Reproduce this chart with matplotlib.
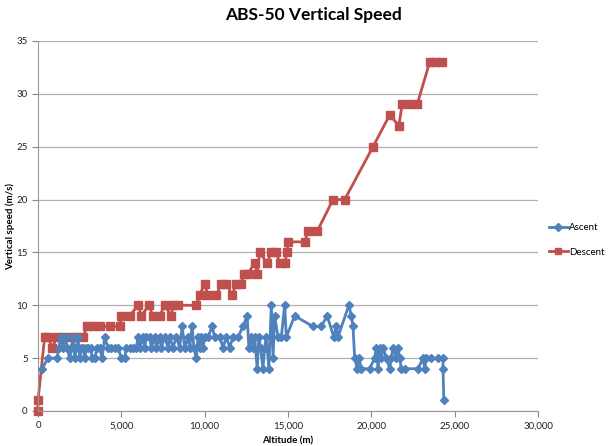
import matplotlib
matplotlib.use("Agg")
import matplotlib.pyplot as plt

plt.rcParams['font.family'] = ['Lato', 'DejaVu Sans']

asc_alt = [250, 600, 1150, 1250, 1350, 1500, 1650, 1750, 1900, 2000, 2100, 2200, 2300, 2400, 2500,
           2600, 2700, 2800, 2900, 3000, 3150, 3250, 3400, 3550, 3700, 3850, 4000, 4200, 4400, 4600,
           4800, 5000, 5200, 5300, 5500, 5700, 5900, 6000, 6100, 6300, 6400, 6500, 6700, 6800, 7000,
           7100, 7300, 7400, 7600, 7800, 7900, 8100, 8300, 8500, 8650, 8800, 9000, 9100, 9250, 9350,
           9500, 9600, 9700, 9800, 9900, 10000, 10200, 10450, 10600, 10900, 11100, 11300, 11500, 11700,
           12000, 12300, 12550, 12650, 12800, 12900, 13000, 13150, 13250, 13350, 13500, 13600, 13700,
           13850, 14000, 14100, 14200, 14400, 14600, 14800, 14900, 15400, 16500, 17000, 17350, 17750,
           17900, 18000, 18650, 18800, 18900, 19000, 19150, 19250, 19400, 19900, 20200, 20300, 20400,
           20500, 20600, 20700, 20900, 21100, 21200, 21300, 21500, 21600, 21700, 21800, 22000, 22800,
           23100, 23200, 23300, 23600, 24000, 24300, 24300, 24350]
asc_speed = [4, 5, 5, 6, 7, 6, 7, 6, 5, 6, 7, 5, 6, 7, 5,
             6, 6, 5, 6, 6, 6, 5, 5, 6, 6, 5, 7, 6, 6, 6,
             6, 5, 5, 6, 6, 6, 6, 7, 6, 7, 6, 7, 7, 6, 7,
             6, 7, 6, 7, 6, 7, 6, 7, 6, 8, 6, 7, 6, 8, 6,
             5, 7, 6, 7, 6, 7, 7, 8, 7, 7, 6, 7, 6, 7,
             7, 8, 9, 6, 7, 6, 7, 4, 7, 6, 4, 6, 7,
             4, 10, 5, 9, 7, 7, 10, 7, 9, 8, 8, 9, 7,
             8, 7, 10, 9, 8, 5, 4, 5, 4, 4, 5, 6, 4,
             6, 5, 6, 5, 4, 5, 6, 5, 6, 5, 4, 4, 4,
             5, 4, 5, 5, 5, 5, 4, 1]

desc_alt = [0, 0, 400, 600, 850, 1150, 1500, 1900, 2300, 2700, 2950, 3300, 3700, 4300, 4900,
            5000, 5500, 6000, 6200, 6650, 6900, 7300, 7600, 8000, 8100, 8400, 9500, 9700, 10000,
            10200, 10700, 11000, 11300, 11650, 11900, 12200, 12350, 12600, 13000, 13150, 13300,
            13750, 14000, 14300, 14500, 14800, 14950, 15000, 16000, 16200, 16750, 17700, 18400,
            20100, 21100, 21650, 21850, 22300, 22750, 23500, 23900, 24250]
desc_speed = [0, 1, 7, 7, 6, 7, 7, 7, 7, 7, 8, 8, 8, 8, 8,
              9, 9, 10, 9, 10, 9, 9, 10, 9, 10, 10, 10, 11, 12,
              11, 11, 12, 12, 11, 12, 12, 13, 13, 14, 13, 15,
              14, 15, 15, 14, 14, 15, 16, 16, 17, 17, 20, 20,
              25, 28, 27, 29, 29, 29, 33, 33, 33]

x_ticks = [0, 5000, 10000, 15000, 20000, 25000, 30000]
y_ticks = [0, 5, 10, 15, 20, 25, 30, 35]

blue = '#4F81BD'
red = '#C0504D'

fig = plt.figure(figsize=(6.16, 4.46), dpi=100)
ax = fig.add_axes([38/616, 1-411/446, 500/616, 370/446])

ax.plot(asc_alt, asc_speed, color=blue, lw=2, marker='D', ms=4.5, mec=blue, mfc=blue,
        label='Ascent', zorder=3, clip_on=False)
ax.plot(desc_alt, desc_speed, color=red, lw=2, marker='s', ms=6, mec=red, mfc=red,
        label='Descent', zorder=2, clip_on=False)

ax.set_xlim(0, 30000)
ax.set_ylim(0, 35)
ax.set_xticks(x_ticks)
ax.set_xticklabels([f'{v:,}' for v in x_ticks])
ax.set_yticks(y_ticks)
ax.tick_params(axis='both', labelsize=7, colors='#888888', labelcolor='#222222', length=4, width=0.8)
ax.grid(axis='y', color='#b0b0b0', lw=0.9)
ax.set_axisbelow(True)
for s in ['top', 'right']:
    ax.spines[s].set_visible(False)
for s in ['left', 'bottom']:
    ax.spines[s].set_color('#999999')
    ax.spines[s].set_linewidth(0.8)

ax.set_xlabel('Altitude (m)', fontsize=7, fontweight='bold', labelpad=4)
fig.text(10/616, 1-226/446, 'Vertical speed (m/s)', rotation=90, ha='center', va='center',
         fontsize=7, fontweight='bold')
fig.suptitle('ABS-50 Vertical Speed', x=313/616, y=1-15/446, va='center', fontsize=12.5, fontweight='bold')

fig.legend(loc='center left', bbox_to_anchor=(540/616, 1-240/446), frameon=False, fontsize=7,
           handlelength=2.0, handletextpad=0.1, labelspacing=1.6, markerscale=0.8)

fig.savefig('out.png', dpi=100)
